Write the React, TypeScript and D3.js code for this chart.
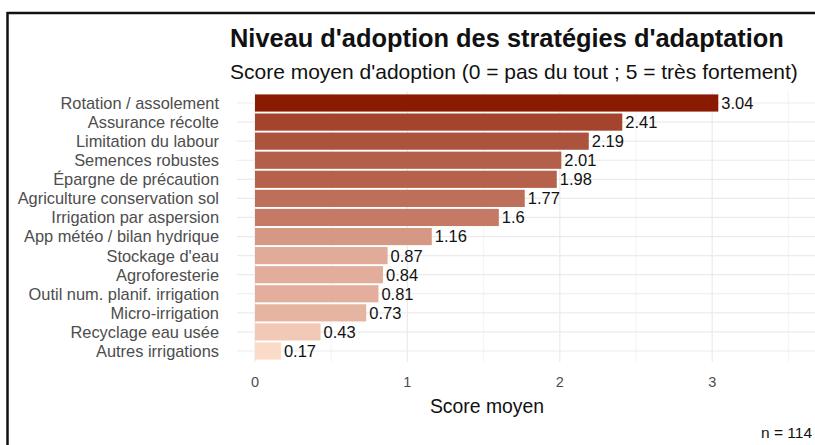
import React from "react";
import * as d3 from "d3";

const categories = [
  "Rotation / assolement",
  "Assurance récolte",
  "Limitation du labour",
  "Semences robustes",
  "Épargne de précaution",
  "Agriculture conservation sol",
  "Irrigation par aspersion",
  "App météo / bilan hydrique",
  "Stockage d'eau",
  "Agroforesterie",
  "Outil num. planif. irrigation",
  "Micro-irrigation",
  "Recyclage eau usée",
  "Autres irrigations",
];
const scores = [3.04, 2.41, 2.19, 2.01, 1.98, 1.77, 1.6, 1.16, 0.87, 0.84, 0.81, 0.73, 0.43, 0.17];
const xTicks = [0, 1, 2, 3];
const xMinor = [0.5, 1.5, 2.5, 3.5];

const W = 815;
const H = 445;
const font = "'Liberation Sans', Arial, sans-serif";

export default function App() {
  const panel = { left: 237, right: 815, top: 92, bottom: 362 };
  const step = 19.07;

  const x = d3.scaleLinear().domain([0, 4]).range([255, 255 + 4 * 152.4]);
  const y = d3
    .scaleBand()
    .domain(categories)
    .range([103 - step / 2, 351 + step / 2])
    .paddingInner(0.1)
    .paddingOuter(0.05);

  const color = d3
    .scaleLinear<string>()
    .domain([d3.min(scores) || 0, d3.max(scores) || 1])
    .range(["#fcdac8", "#8b1a02"])
    .interpolate(d3.interpolateRgb);

  const cy = (c: string) => (y(c) || 0) + y.bandwidth() / 2;

  return (
    <svg
      width={W}
      height={H}
      style={{ position: "absolute", left: 0, top: 0, background: "#fff" }}
      fontFamily={font}
    >
      {/* frame */}
      <line x1={7} x2={W} y1={13} y2={13} stroke="#111" strokeWidth={2.5} />
      <line x1={7.5} x2={7.5} y1={12} y2={H} stroke="#111" strokeWidth={2.5} />

      <text x={230} y={47} fontSize={25.4} fontWeight="bold" fill="#111">
        Niveau d'adoption des stratégies d'adaptation
      </text>
      <text x={230} y={79} fontSize={21} fill="#111">
        Score moyen d'adoption (0 = pas du tout ; 5 = très fortement)
      </text>

      {/* grid */}
      {xMinor.map((t) => (
        <line key={"m" + t} x1={x(t)} x2={x(t)} y1={panel.top} y2={panel.bottom} stroke="#f3f3f3" strokeWidth={1} />
      ))}
      {xTicks.map((t) => (
        <line key={"g" + t} x1={x(t)} x2={x(t)} y1={panel.top} y2={panel.bottom} stroke="#ebebeb" strokeWidth={1.2} />
      ))}
      {categories.map((c) => (
        <line key={"h" + c} x1={panel.left} x2={panel.right} y1={cy(c)} y2={cy(c)} stroke="#ebebeb" strokeWidth={1.2} />
      ))}

      {/* bars */}
      {categories.map((c, i) => (
        <rect
          key={c}
          x={x(0)}
          y={y(c)}
          width={x(scores[i]) - x(0)}
          height={y.bandwidth()}
          fill={color(scores[i])}
        />
      ))}
      {categories.map((c, i) => (
        <text key={"v" + c} x={x(scores[i]) + 3} y={cy(c)} dy="0.36em" fontSize={16.5} fill="#111">
          {String(scores[i])}
        </text>
      ))}

      {/* y labels */}
      {categories.map((c) => (
        <text key={"l" + c} x={219} y={cy(c)} dy="0.36em" textAnchor="end" fontSize={16.4} fill="#4d4d4d">
          {c}
        </text>
      ))}

      {/* x ticks */}
      {xTicks.map((t) => (
        <text key={"t" + t} x={x(t)} y={387} textAnchor="middle" fontSize={14.5} fill="#4d4d4d">
          {t}
        </text>
      ))}
      <text x={487} y={413} textAnchor="middle" fontSize={19.4} fill="#111">
        Score moyen
      </text>
      <text x={812} y={438} textAnchor="end" fontSize={15.5} fill="#111">
        n = 114
      </text>
    </svg>
  );
}
